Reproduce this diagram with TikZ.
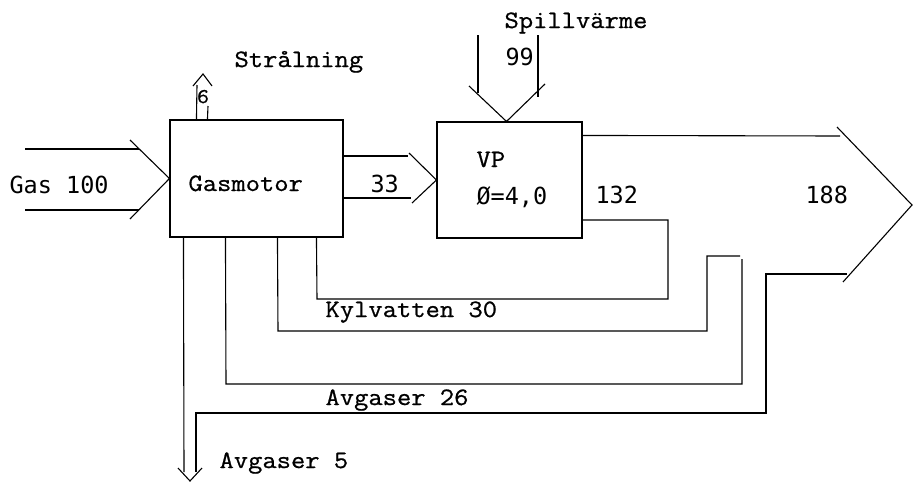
\documentclass[tikz,border=0pt]{standalone}
\usepackage{fontspec}
\newfontfamily\typfont{Latin Modern Mono}[FakeStretch=1.11, FakeBold=0.8]
\newfontfamily\gothicfont{DejaVu Sans Mono}
\usepackage{tikz}
\usetikzlibrary{positioning,calc}

\tikzset{
  box/.style={draw, line width=1.1pt, inner sep=0pt},
  typ/.style={font=\typfont\fontsize{25}{25}\selectfont, inner sep=0pt, anchor=base west},
  goth/.style={font=\gothicfont\fontsize{23.5}{24}\selectfont, inner sep=0pt, anchor=base west},
}

\begin{document}
\begin{tikzpicture}[x=1pt, y=-1pt, line width=1.1pt]
\useasboundingbox (0,0) rectangle (913,482);
% apparater
\node[box, minimum width=173pt, minimum height=117pt] (gm) at (256.5,178.5) {};
\node[box, minimum width=145pt, minimum height=116pt] (vp) at (509.5,180) {};
\node[typ] (gmtext) at (188,191) {Gasmotor};
\node[typ] (vptext) at (476,167) {VP};
\node[goth] (cop) at (476,204) {Ø=4,0};
% gas in
\coordinate (gasA) at (25,149);
\coordinate (gasB) at (25,210);
\draw (gasA) -- (139,149);
\draw (gasB) -- (139,210);
\draw (130,140) -- (gm.west) -- (130,219);
\node[goth] (gas) at (9,193) {Gas 100};
% strålning
\coordinate (strTip) at (203,74);
\draw (gm.north west) ++(27,0) -- (197,85);
\draw (gm.north west) ++(38,0) -- (208,106);
\draw (193,86) -- (strTip) -- (212,86);
\node[font=\typfont\fontsize{21}{21}\selectfont, inner sep=0pt, anchor=base] (str6) at (203,103) {6};
\node[typ] (strText) at (234,67) {Strålning};
% spillvärme
\coordinate (spA) at (478,35);
\coordinate (spB) at (538,35);
\draw (spA) -- (478,93);
\draw (spB) -- (538,97);
\draw (469,86) -- ([xshift=-3pt]vp.north) -- (545,84);
\node[goth] (sp99) at (505,65) {99};
\node[typ] (spText) at (504,28) {Spillvärme};
% drivenergi till VP
\draw (343,156) -- (408,156);
\draw (343,198) -- (411,198);
\draw (409,153) -- (vp.west) -- (412,203);
\node[goth] (w33) at (370,192) {33};
% nyttig värme ut
\coordinate (outTip) at (912,205);
\draw (vp.north east) ++(0,14) -- (840,136);
\draw (837,127) -- (outTip) -- (843,282);
\draw (847,274) -- (766,274) -- (766,413) -- (196,413) -- (196,472);
\node[goth] (q132) at (595,203) {132};
\node[goth] (q188) at (805,203) {188};
% kylvatten
\draw (gm.south west) ++(108,0) -- (278,331) -- (707,331) -- (707,256) -- (740,256);
\draw (gm.south west) ++(147,0) -- (317,299) -- (668,299) -- (668,220) -- (vp.east |- 0,220);
\node[typ] (kyl) at (325,317) {Kylvatten 30};
% avgaser
\draw (gm.south west) ++(56,0) -- (226,384) -- (742,384) -- (742,259);
\node[typ] (avg26) at (325,405) {Avgaser 26};
\coordinate (avgTip) at (190,481);
\draw (gm.south west) ++(14,0) -- (184,472);
\draw (178,468) -- (avgTip) -- (202,468);
\node[typ] (avg5) at (219,468) {Avgaser 5};
\end{tikzpicture}
\end{document}
